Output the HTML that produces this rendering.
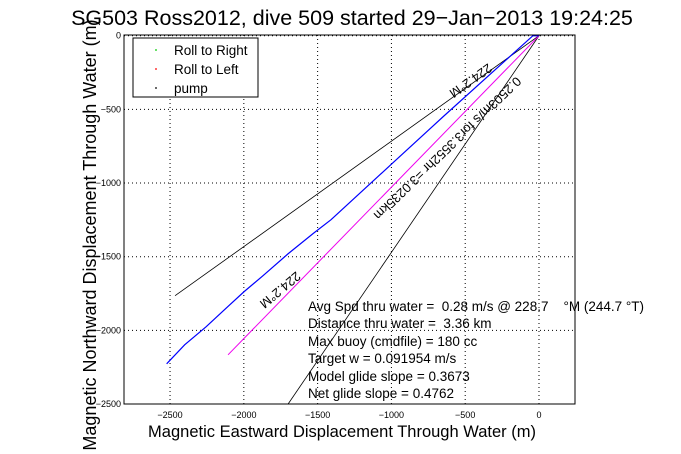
<!DOCTYPE html>
<html><head><meta charset="utf-8"><style>
body{margin:0;background:#fff;}
svg{display:block;font-family:"Liberation Sans",sans-serif;}
.pre{white-space:pre;}
</style></head><body>
<svg id="c" width="681" height="454">
<rect width="681" height="454" fill="#fff"/>
<text x="352" y="25" text-anchor="middle" font-size="21.5">SG503 Ross2012, dive 509 started 29−Jan−2013 19:24:25</text>
<text x="342" y="437" text-anchor="middle" font-size="16.5">Magnetic Eastward Displacement Through Water (m)</text>
<text transform="translate(96,235) rotate(-90)" text-anchor="middle" font-size="18">Magnetic Northward Displacement Through Water (m)</text>
<g id="grid"></g><g id="ticks"></g><g id="marks"></g>
<rect x="124" y="35" width="451" height="369" fill="none" stroke="#000"/>
<g>
<rect x="133" y="38" width="125" height="59" fill="#fff" stroke="#000"/>
<circle cx="156" cy="50" r="0.9" fill="#0c0"/>
<text x="174" y="55" font-size="13.5">Roll to Right</text>
<circle cx="156" cy="69" r="0.9" fill="#f00"/>
<text x="174" y="74" font-size="13.5">Roll to Left</text>
<circle cx="156" cy="88" r="0.9" fill="#000"/>
<text x="174" y="93" font-size="13.5">pump</text>
</g>
<g font-size="13.5">
<text class="pre" xml:space="preserve" x="308" y="311">Avg Spd thru water =  0.28 m/s @ 228.7    °M (244.7 °T)</text>
<text class="pre" xml:space="preserve" x="308" y="328">Distance thru water =  3.36 km</text>
<text x="308" y="346">Max buoy (cmdfile) = 180 cc</text>
<text x="308" y="363">Target w = 0.091954 m/s</text>
<text x="308" y="381">Model glide slope = 0.3673</text>
<text x="308" y="398">Net glide slope = 0.4762</text>
</g>
<text transform="translate(488,63) rotate(144.5)" font-size="13">224.2°M</text>
<text transform="translate(296,271) rotate(140)" font-size="13">224.2°M</text>
<text transform="translate(516,76) rotate(136)" font-size="13">0.2503m/s for3.3552hr =3.0235km</text>
</svg>
<script>
const xTicks=[-2500,-2000,-1500,-1000,-500,0];
const yTicks=[0,-500,-1000,-1500,-2000,-2500];
const trackX=[0,-41,-244,-650,-989,-1409,-1528,-1700,-1870,-1999,-2110,-2256,-2401,-2523];
const trackY=[0,0,-183,-550,-862,-1249,-1341,-1480,-1629,-1738,-1840,-1976,-2098,-2227];
const currentEnd=[-2107,-2166];
const boundA=[-2466,-1765];
const boundB=[-1700,-2500];
const X0=124,X1=575,Y0=35,Y1=404,xmin=-2812,xmax=244,ymin=-2500,ymax=5;
const sx=v=>X0+(v-xmin)/(xmax-xmin)*(X1-X0);
const sy=v=>Y1-(v-ymin)/(ymax-ymin)*(Y1-Y0);
const NS="http://www.w3.org/2000/svg";
function mk(t,a,p){const e=document.createElementNS(NS,t);for(const k in a)e.setAttribute(k,a[k]);p.appendChild(e);return e;}
const grid=document.getElementById('grid'),ticks=document.getElementById('ticks'),marks=document.getElementById('marks');
xTicks.forEach(v=>{
 const g=mk('line',{x1:sx(v),x2:sx(v),y1:Y0,y2:Y1,stroke:'#000','stroke-dasharray':'1,3','stroke-width':1},grid);
 
 
 const t=mk('text',{x:sx(v),y:Y1+14,'text-anchor':'middle','font-size':9},ticks);
 t.textContent=v===0?'0':'−'+Math.abs(v);
 
 
});
yTicks.forEach(v=>{
 const g=mk('line',{x1:X0,x2:X1,y1:sy(v),y2:sy(v),stroke:'#000','stroke-dasharray':'1,3','stroke-width':1},grid);
 
 
 const t=mk('text',{x:X0-3,y:sy(v)+3,'text-anchor':'end','font-size':9},ticks);
 t.textContent=v===0?'0':'−'+Math.abs(v);
 
 
});
[[boundA,'bound-line-upper'],[boundB,'bound-line-lower']].forEach(([p,n])=>{
 const l=mk('line',{x1:sx(0),y1:sy(0),x2:sx(p[0]),y2:sy(p[1]),stroke:'#000','stroke-width':0.8},marks);
 
 
});
const cl=mk('line',{x1:sx(0),y1:sy(0),x2:sx(currentEnd[0]),y2:sy(currentEnd[1]),stroke:'#e0e','stroke-width':1},marks);


const tr=mk('polyline',{points:trackX.map((x,i)=>sx(x)+','+sy(trackY[i])).join(' '),fill:'none',stroke:'#00f','stroke-width':1.2},marks);


</script>
</body></html>
